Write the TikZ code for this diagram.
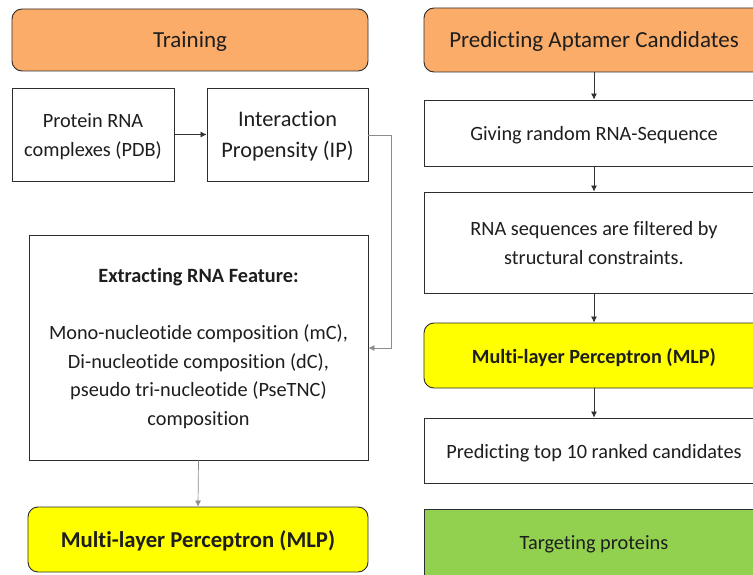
\documentclass[tikz,border=0pt]{standalone}
\usepackage{fontspec}
\setmainfont{Carlito}[Ligatures=NoCommon]
\usetikzlibrary{arrows.meta}
\definecolor{headorange}{RGB}{250,172,104}
\definecolor{mlpyellow}{RGB}{255,255,0}
\definecolor{targetgreen}{RGB}{146,208,80}
\definecolor{inkgray}{RGB}{30,30,30}
\definecolor{framegray}{RGB}{45,45,45}
\begin{document}
\begin{tikzpicture}[x=1pt,y=-1pt,
  % text height (from the last baseline up) fixes where the lines sit
  lines/.style={text height=#1, text depth=0pt},
  lines/.default=15pt,
  box/.style={draw=framegray, line width=0.9pt, fill=white, align=center,
    inner sep=0pt, text=inkgray, lines,
    font=\fontsize{20.3}{28.5}\selectfont},
  head/.style={box, rounded corners=10pt, fill=headorange,
    font=\fontsize{23}{28}\selectfont},
  mlpbox/.style={box, rounded corners=10pt, fill=mlpyellow,
    font=\bfseries\fontsize{22.7}{28}\selectfont},
  conn/.style={draw=black!80, line width=0.7pt,
    -{Latex[length=6pt,width=6pt]}},
  softconn/.style={conn, draw=black!45}
]
\useasboundingbox (0,0) rectangle (753,575);
\clip (0,0) rectangle (753,575);
\fill[white] (0,0) rectangle (753,575);

% left column: training
\node[head, minimum width=356, minimum height=62] (train) at (190,40) {Training};
\node[box, lines=44pt, minimum width=162, minimum height=93] (pdb) at (93,134.5)
  {Protein RNA\\complexes (PDB)};
\node[box, lines=46pt, minimum width=161, minimum height=93,
  font=\fontsize{22.3}{31}\selectfont] (ip) at (287.5,134.5)
  {Interaction\\Propensity (IP)};
\node[box, lines=155.5pt, minimum width=339, minimum height=225] (feat) at (198.5,347.5)
  {\textbf{Extracting RNA Feature:}\\[28.5pt]
   Mono-nucleotide composition (mC),\\
   Di-nucleotide composition (dC),\\
   pseudo tri-nucleotide (PseTNC)\\
   composition};
\node[mlpbox, minimum width=340, minimum height=65] (mlpL) at (198,539.5)
  {Multi-layer Perceptron (MLP)};

\coordinate (bendA) at (391,135);
\coordinate (bendB) at (391,348);
\draw[conn] (pdb.east) -- (ip.west);
\draw[softconn] (ip.east |- bendA) -- (bendA) -- (bendB) -- (feat.east |- bendB);
\draw[softconn] (feat.south) -- (mlpL.north);

% right column: predicting aptamer candidates
\node[head, minimum width=340, minimum height=64] (pred) at (594,40)
  {Predicting Aptamer Candidates};
\node[box, minimum width=340, minimum height=66] (rand) at (594,133)
  {Giving random RNA-Sequence};
\node[box, lines=43.5pt, minimum width=340, minimum height=101] (filt) at (594,242.5)
  {RNA sequences are filtered by\\structural constraints.};
\node[mlpbox, minimum width=340, minimum height=65,
  font=\bfseries\fontsize{20.2}{28}\selectfont] (mlpR) at (594,355.5)
  {Multi-layer Perceptron (MLP)};
\node[box, minimum width=340, minimum height=65] (top) at (594,450.5)
  {Predicting top 10 ranked candidates};
\node[box, fill=targetgreen, minimum width=340, minimum height=66] (target) at (594,542)
  {Targeting proteins};

\draw[conn] (pred.south) -- (rand.north);
\draw[conn] (rand.south) -- (filt.north);
\draw[conn] (filt.south) -- (mlpR.north);
\draw[conn] (mlpR.south) -- (top.north);
\end{tikzpicture}
\end{document}
